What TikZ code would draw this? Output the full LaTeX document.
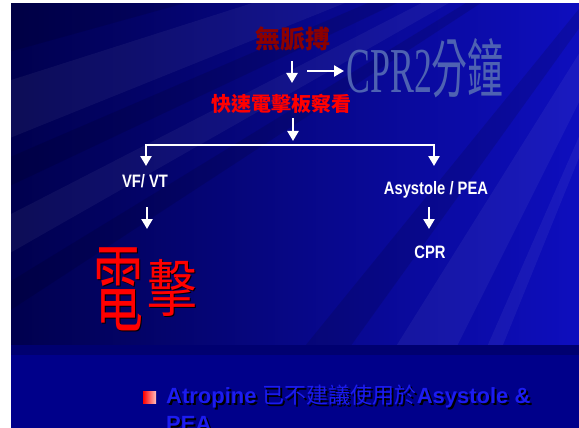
\documentclass[tikz,border=0pt]{standalone}
\usepackage{fontspec}
\usetikzlibrary{arrows.meta}
\setmainfont{Liberation Sans}
\newfontfamily\cjk{Noto Sans CJK TC}
\newfontfamily\serifl{Liberation Serif}
\definecolor{bgdark}{RGB}{0,0,78}
\definecolor{bgmid}{RGB}{2,2,140}
\definecolor{bglight}{RGB}{14,14,190}
\definecolor{bgbottom}{RGB}{0,0,138}
\definecolor{bgband}{RGB}{0,0,112}
\definecolor{darkred}{RGB}{140,0,0}
\definecolor{brightred}{RGB}{255,0,0}
\definecolor{cprblue}{RGB}{78,98,178}
\definecolor{txtblue}{RGB}{28,28,240}
\tikzset{
  arr/.style={draw=white, line width=2.8pt, -{Triangle[width=11pt,length=10pt]}},
  lbl/.style={text=white, inner sep=0pt, font=\fontsize{18}{20}\selectfont\bfseries, xscale=0.82},
  ray/.style={fill=white, fill opacity=0.05},
  dray/.style={fill=black, fill opacity=0.12},
  bline/.style={anchor=base west, inner sep=0pt, font=\fontsize{22}{28}\selectfont},
}
\begin{document}
\begin{tikzpicture}[x=1pt,y=-1pt]
\useasboundingbox (0,0) rectangle (579,428);
\fill[white] (0,0) rectangle (579,428);
% slide background
\shade[left color=bgdark, middle color=bgmid, right color=bglight] (11,4) rectangle (579,428);
\begin{scope}
\clip (11,4) rectangle (579,345);
\coordinate (F) at (700,-140);
\fill[dray] (F) -- (-20,-60) -- (-20,60) -- cycle;
\fill[ray] (F) -- (-20,90) -- (-20,150) -- cycle;
\fill[ray] (F) -- (-20,230) -- (-20,270) -- cycle;
\fill[dray] (F) -- (-20,170) -- (-20,200) -- cycle;
\fill[ray] (F) -- (300,500) -- (380,500) -- cycle;
\fill[dray] (F) -- (180,500) -- (240,500) -- cycle;
\fill[ray] (F) -- (600,330) -- (600,380) -- cycle;
\fill[ray] (F) -- (100,-20) -- (160,-20) -- cycle;
\fill[ray] (F) -- (420,500) -- (440,500) -- cycle;
\fill[dray] (F) -- (-20,300) -- (-20,330) -- cycle;
\end{scope}
\fill[bgbottom] (11,345) rectangle (579,428);
\fill[bgband] (11,345) rectangle (579,355);

% top texts
\node[text=darkred, inner sep=0pt, font=\cjk\bfseries\fontsize{25}{28}\selectfont] (nopulse) at (293,38.5) {無脈搏};
\node[text=cprblue, inner sep=0pt, xscale=0.56, font=\fontsize{64}{70}\selectfont] (cpr2) at (425,68) {\serifl CPR2\cjk 分鐘};
\node[text=brightred, inner sep=0pt, font=\cjk\bfseries\fontsize{20}{22}\selectfont] (check) at (281,104) {快速電擊板察看};

\coordinate (a1s) at (292,61);
\coordinate (a1e) at (292,83);
\coordinate (r1s) at (307,71);
\coordinate (r1e) at (344,71);
\draw[arr] (a1s) -- (a1e);
\draw[arr] (r1s) -- (r1e);

\coordinate (a2s) at (293,118);
\coordinate (a2e) at (293,141);
\draw[arr] (a2s) -- (a2e);

\coordinate (bl) at (146,166);
\coordinate (br) at (434,166);
\draw[arr] (bl|-0,145) -- (bl);
\draw[arr] (br|-0,145) -- (br);
\draw[white, line width=2.8pt, line cap=rect] (146,145) -- (434,145);

\node[lbl] (vf) at (145,181.5) {VF/ VT};
\node[lbl] (asy) at (436,190) {Asystole / PEA};
\node[lbl] (cpr) at (430,252.5) {CPR};

\coordinate (a3s) at (147,207);
\coordinate (a3e) at (147,229);
\coordinate (a4s) at (429,207);
\coordinate (a4e) at (429,229);
\draw[arr] (a3s) -- (a3e);
\draw[arr] (a4s) -- (a4e);

% shock characters
\node[text=black, inner sep=0pt, font=\cjk\fontsize{96}{100}\selectfont, xscale=0.52] at (119,290) {電};
\node[text=brightred, inner sep=0pt, font=\cjk\fontsize{96}{100}\selectfont, xscale=0.52] (dian) at (118,289) {電};
\node[text=black, inner sep=0pt, font=\cjk\fontsize{62}{70}\selectfont, xscale=0.8] at (173,289) {擊};
\node[text=brightred, inner sep=0pt, font=\cjk\fontsize{62}{70}\selectfont, xscale=0.8] (ji) at (172,288) {擊};

% bullet
\shade[left color=red, right color=red!25!white] (143,391) rectangle (156,403);
\node[bline, text=black] at (168,405)
  {\bfseries Atropine \cjk\mdseries 已不建議使用於\rmfamily\bfseries Asystole \&};
\node[bline, text=txtblue] (bullet1) at (166,403)
  {\bfseries Atropine \cjk\mdseries 已不建議使用於\rmfamily\bfseries Asystole \&};
\node[bline, text=black] at (168,433) {\bfseries PEA};
\node[bline, text=txtblue] (bullet2) at (166,431) {\bfseries PEA};
\end{tikzpicture}
\end{document}
